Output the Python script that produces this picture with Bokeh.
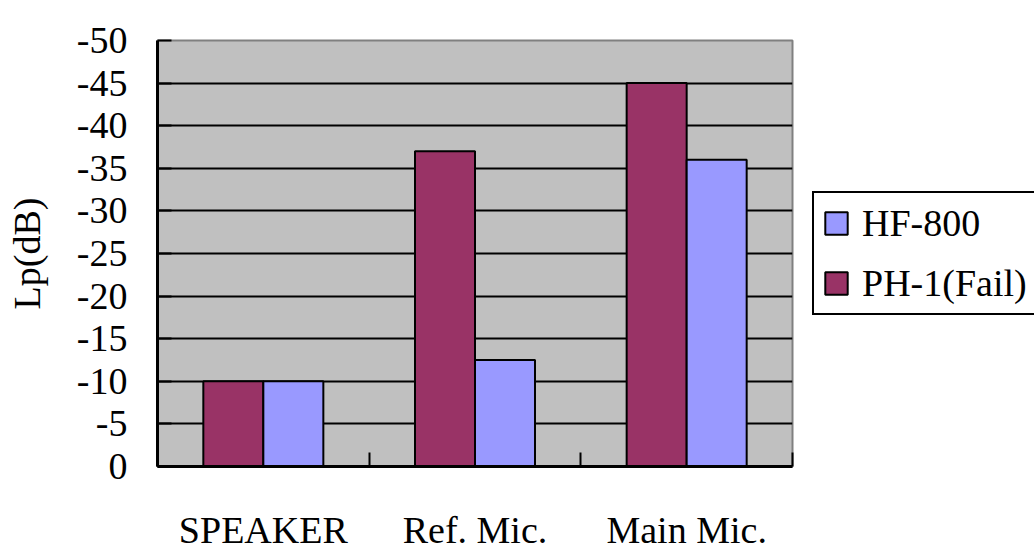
import numpy as np
from bokeh.plotting import figure
from bokeh.layouts import row
from bokeh.models import Range1d, FixedTicker, Legend, LegendItem
from bokeh.embed import file_html
from bokeh.resources import INLINE

categories = ["SPEAKER", "Ref. Mic.", "Main Mic."]
ph1_fail = [-10, -37, -45]
hf800 = [-10, -12.5, -36]
y_ticks = [0, -5, -10, -15, -20, -25, -30, -35, -40, -45, -50]
series_names = ["HF-800", "PH-1(Fail)"]
series_colors = {"HF-800": "#9999FF", "PH-1(Fail)": "#993366"}

FONT = "Liberation Serif"
FS = "38px"

p = figure(frame_width=635, frame_height=426, output_backend="svg", toolbar_location=None,
           x_range=Range1d(-0.5, len(categories) - 0.5), y_range=Range1d(0, -50),
           min_border_left=157, min_border_right=2, min_border_top=40, min_border_bottom=86)
p.background_fill_color = "#C0C0C0"
p.border_fill_color = "white"
p.outline_line_color = "#808080"
p.outline_line_width = 2

pos = np.arange(len(categories))
bw = 0.2835
p.vbar(x=pos - bw / 2, top=ph1_fail, bottom=0, width=bw, fill_color=series_colors["PH-1(Fail)"],
       line_color="black", line_width=2)
p.vbar(x=pos + bw / 2, top=hf800, bottom=0, width=bw, fill_color=series_colors["HF-800"],
       line_color="black", line_width=2)

p.xgrid.grid_line_color = None
p.ygrid.grid_line_color = "black"
p.ygrid.grid_line_width = 2
p.ygrid.ticker = FixedTicker(ticks=y_ticks)

ya = p.yaxis[0]
ya.ticker = FixedTicker(ticks=y_ticks)
ya.major_label_overrides = {t: str(t) for t in y_ticks}
ya.major_tick_in = 14
ya.major_tick_out = 0
ya.major_tick_line_width = 2
ya.minor_tick_line_color = None
ya.axis_line_width = 3
ya.major_label_text_font = FONT
ya.major_label_text_font_size = FS
ya.major_label_text_color = "black"
ya.major_label_standoff = 30
ya.axis_label = "Lp(dB)"
ya.axis_label_text_font = FONT
ya.axis_label_text_font_size = FS
ya.axis_label_text_font_style = "normal"
ya.axis_label_text_color = "black"
ya.axis_label_standoff = 26

xa = p.xaxis[0]
xa.ticker = FixedTicker(ticks=list(pos), minor_ticks=list(pos - 0.5) + [len(categories) - 0.5])
xa.major_label_overrides = {int(i): c for i, c in zip(pos, categories)}
xa.major_tick_line_color = None
xa.minor_tick_in = 14
xa.minor_tick_out = 0
xa.minor_tick_line_width = 2
xa.minor_tick_line_color = "black"
xa.axis_line_width = 3
xa.major_label_text_font = FONT
xa.major_label_text_font_size = FS
xa.major_label_text_color = "black"
xa.major_label_standoff = 36

# legend panel
p2 = figure(width=240, height=552, output_backend="svg", toolbar_location=None,
            x_axis_type=None, y_axis_type=None, min_border=0,
            x_range=Range1d(0, 1), y_range=Range1d(0, 1))
p2.outline_line_color = None
p2.border_fill_color = "white"
p2.background_fill_color = "white"
p2.xgrid.grid_line_color = None
p2.ygrid.grid_line_color = None
items = []
for name in series_names:
    # NaN geometry: nothing is drawn, only the legend swatch shows
    r = p2.vbar(x=np.array([np.nan]), top=np.array([np.nan]), bottom=np.array([np.nan]),
                width=0.1, fill_color=series_colors[name], line_color="black", line_width=2)
    items.append(LegendItem(label=name, renderers=[r]))
legend = Legend(items=items, location=(18, 150), padding=8, spacing=16,
                glyph_width=28, glyph_height=28, label_standoff=12,
                label_text_font=FONT, label_text_font_size=FS, label_text_color="black",
                border_line_color="black", border_line_width=2, border_line_alpha=1.0,
                background_fill_color="white", background_fill_alpha=1.0)
p2.add_layout(legend, "center")

layout = row(p, p2, spacing=0)
open("out.html", "w").write(file_html(layout, INLINE))
